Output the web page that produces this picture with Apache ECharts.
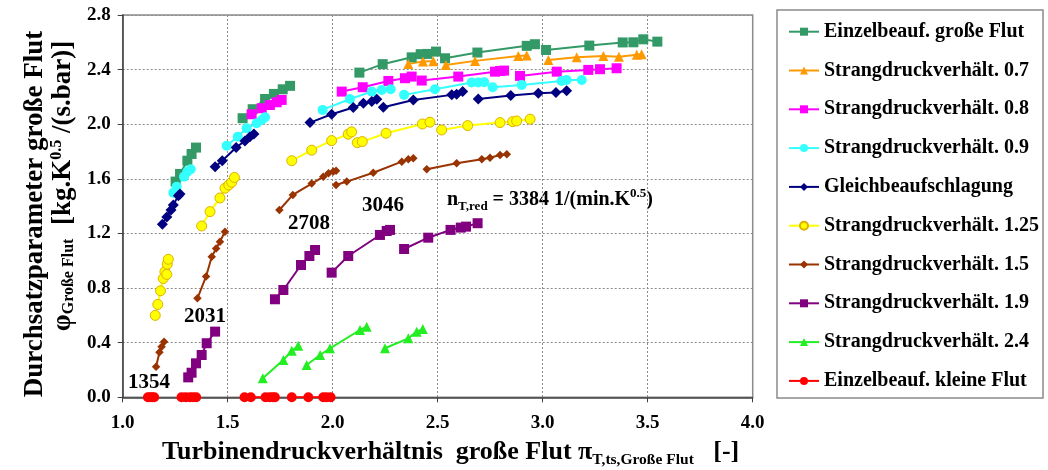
<!DOCTYPE html>
<html>
<head>
<meta charset="utf-8">
<script src="https://cdn.jsdelivr.net/npm/echarts@6/dist/echarts.min.js"></script>
<style>
  html, body { margin: 0; padding: 0; background: #fff; }
  #chart { width: 1048px; height: 470px; }
</style>
</head>
<body>
<div id="chart"></div>
<script>
// Measured operating points [pressure ratio, flow parameter], one inner list per speed line.
const einzelGrosseFlut = [
  [[1.252, 1.58], [1.273, 1.636], [1.308, 1.733], [1.328, 1.782], [1.349, 1.829]],
  [[1.571, 2.044], [1.619, 2.11], [1.678, 2.185], [1.72, 2.222], [1.762, 2.256], [1.797, 2.281]],
  [[2.127, 2.378], [2.238, 2.44], [2.376, 2.49], [2.419, 2.513], [2.451, 2.515], [2.492, 2.532]],
  [[2.535, 2.483], [2.689, 2.525], [2.924, 2.574], [2.963, 2.586]],
  [[3.016, 2.544], [3.222, 2.576], [3.381, 2.599], [3.432, 2.6], [3.479, 2.622], [3.546, 2.605]]
];
const strang07 = [
  [[2.36, 2.442], [2.43, 2.46], [2.479, 2.462]],
  [[2.539, 2.434], [2.678, 2.464], [2.884, 2.5], [2.924, 2.503]],
  [[3.027, 2.471], [3.162, 2.49], [3.289, 2.5], [3.363, 2.495], [3.448, 2.508], [3.471, 2.513]]
];
const strang08 = [
  [[1.614, 2.073], [1.662, 2.117], [1.701, 2.141], [1.733, 2.161], [1.757, 2.178]],
  [[2.043, 2.239], [2.143, 2.271], [2.265, 2.317], [2.344, 2.337], [2.376, 2.349]],
  [[2.424, 2.32], [2.598, 2.349], [2.773, 2.385], [2.797, 2.39], [2.816, 2.393]],
  [[2.892, 2.354], [3.067, 2.385], [3.217, 2.398], [3.273, 2.403], [3.352, 2.41]]
];
const strang09 = [
  [[1.241, 1.499], [1.257, 1.543], [1.292, 1.616], [1.308, 1.653], [1.324, 1.67]],
  [[1.495, 1.843], [1.548, 1.909], [1.59, 1.97], [1.638, 2.007], [1.662, 2.031], [1.678, 2.051]],
  [[1.952, 2.105], [2.082, 2.185], [2.186, 2.239], [2.233, 2.251], [2.276, 2.256]],
  [[2.34, 2.215], [2.487, 2.256], [2.662, 2.305], [2.693, 2.305], [2.722, 2.307]],
  [[2.762, 2.271], [2.9, 2.288], [3.09, 2.317], [3.114, 2.324], [3.186, 2.324]]
];
const gleichbeaufschlagung = [
  [[1.189, 1.267], [1.21, 1.32], [1.23, 1.372], [1.241, 1.409], [1.265, 1.477], [1.273, 1.489]],
  [[1.44, 1.689], [1.474, 1.733], [1.54, 1.829], [1.582, 1.878], [1.606, 1.909], [1.625, 1.929]],
  [[1.892, 2.012], [1.995, 2.073], [2.098, 2.122], [2.146, 2.154], [2.186, 2.166], [2.21, 2.183]],
  [[2.241, 2.125], [2.384, 2.178], [2.567, 2.215], [2.59, 2.22], [2.619, 2.239]],
  [[2.693, 2.185], [2.848, 2.21], [2.979, 2.227], [3.063, 2.232], [3.114, 2.246]]
];
const strang125 = [
  [[1.155, 0.6], [1.167, 0.68], [1.18, 0.78], [1.193, 0.87], [1.201, 0.92], [1.21, 0.9], [1.212, 0.975], [1.217, 1.011]],
  [[1.376, 1.255], [1.416, 1.36], [1.463, 1.46], [1.487, 1.531], [1.505, 1.555], [1.519, 1.575], [1.532, 1.61]],
  [[1.805, 1.733], [1.9, 1.81], [1.995, 1.88], [2.074, 1.927], [2.09, 1.944]],
  [[2.117, 1.865], [2.141, 1.873], [2.254, 1.934], [2.427, 2.002], [2.463, 2.015]],
  [[2.519, 1.958], [2.643, 1.99], [2.797, 2.012], [2.857, 2.019], [2.876, 2.024], [2.94, 2.037]]
];
const strang15 = [
  [[1.159, 0.224], [1.175, 0.33], [1.185, 0.37], [1.197, 0.407]],
  [[1.356, 0.725], [1.397, 0.885], [1.424, 1.03], [1.445, 1.09], [1.463, 1.14], [1.487, 1.213]],
  [[1.746, 1.372], [1.81, 1.482], [1.9, 1.565], [1.955, 1.615], [1.98, 1.641], [2.003, 1.653], [2.016, 1.66]],
  [[2.016, 1.555], [2.067, 1.58], [2.193, 1.645], [2.329, 1.726], [2.36, 1.743], [2.384, 1.751]],
  [[2.448, 1.67], [2.59, 1.714], [2.71, 1.743], [2.749, 1.755], [2.797, 1.775], [2.829, 1.78]]
];
const strang19 = [
  [[1.312, 0.146], [1.328, 0.18], [1.349, 0.249], [1.376, 0.31], [1.4, 0.396], [1.44, 0.481]],
  [[1.725, 0.718], [1.765, 0.786], [1.849, 0.969], [1.889, 1.035], [1.916, 1.079]],
  [[1.995, 0.913], [2.074, 1.035], [2.225, 1.189], [2.257, 1.218], [2.273, 1.226]],
  [[2.34, 1.086], [2.455, 1.169], [2.561, 1.226], [2.61, 1.243], [2.635, 1.25], [2.69, 1.275]]
];
const strang24 = [
  [[1.667, 0.139], [1.765, 0.273], [1.805, 0.341], [1.836, 0.378]],
  [[1.876, 0.237], [1.94, 0.31], [1.987, 0.359], [2.13, 0.493], [2.162, 0.517]],
  [[2.249, 0.359], [2.36, 0.432], [2.4, 0.481], [2.429, 0.5]]
];
const einzelKleineFlut = [
  [[1.12, 0], [1.13, 0], [1.14, 0], [1.15, 0]],
  [[1.28, 0], [1.3, 0], [1.32, 0], [1.335, 0], [1.35, 0]],
  [[1.58, 0], [1.61, 0], [1.68, 0], [1.7, 0], [1.715, 0], [1.725, 0]],
  [[1.805, 0], [1.884, 0], [1.955, 0], [1.971, 0], [1.99, 0]]
];

const seriesNames = [
  'Einzelbeauf. große Flut', 'Strangdruckverhält. 0.7', 'Strangdruckverhält. 0.8',
  'Strangdruckverhält. 0.9', 'Gleichbeaufschlagung', 'Strangdruckverhält. 1.25',
  'Strangdruckverhält. 1.5', 'Strangdruckverhält. 1.9', 'Strangdruckverhält. 2.4',
  'Einzelbeauf. kleine Flut'
];
const speedLabels = ['1354', '2031', '2708', '3046'];
const xTicks = { min: 1.0, max: 4.0, step: 0.5 };
const yTicks = { min: 0.0, max: 2.8, step: 0.4 };

// Marker and line style per series
const styles = [
  { segs: einzelGrosseFlut, symbol: 'rect', size: 10, color: '#339966' },
  { segs: strang07, symbol: 'triangle', size: 10, color: '#FF9900' },
  { segs: strang08, symbol: 'rect', size: 10, color: '#FF00FF' },
  { segs: strang09, symbol: 'circle', size: 10, color: '#33FFFF' },
  { segs: gleichbeaufschlagung, symbol: 'diamond', size: 11, color: '#000080' },
  { segs: strang125, symbol: 'circle', size: 10, color: '#FFFF00', border: '#E0B000' },
  { segs: strang15, symbol: 'diamond', size: 8.5, color: '#993300' },
  { segs: strang19, symbol: 'rect', size: 10, color: '#800080' },
  { segs: strang24, symbol: 'triangle', size: 10, color: '#22EE22' },
  { segs: einzelKleineFlut, symbol: 'circle', size: 10, color: '#FF0000' }
];

const FONT = 'Liberation Serif, Times New Roman, serif';

const series = [];
styles.forEach((st, i) => {
  st.segs.forEach(seg => {
    series.push({
      type: 'line',
      name: seriesNames[i],
      data: seg,
      symbol: st.symbol,
      symbolSize: st.size,
      showAllSymbol: true,
      animation: false,
      lineStyle: { color: st.color, width: 2 },
      itemStyle: {
        color: st.color,
        borderColor: st.border || st.color,
        borderWidth: st.border ? 1 : 0
      },
      emphasis: { disabled: true }
    });
  });
});

const chart = echarts.init(document.getElementById('chart'), null, { renderer: 'canvas' });

const mainText = { fontFamily: FONT, fontWeight: 'bold', fill: '#000' };

chart.setOption({
  backgroundColor: '#fff',
  animation: false,
  grid: {
    left: 122.7, right: 295.3, top: 15, bottom: 72.7,
    show: true, borderColor: '#8a8a8a', borderWidth: 1.5, backgroundColor: 'transparent'
  },
  xAxis: {
    type: 'value', min: xTicks.min, max: xTicks.max, interval: xTicks.step,
    axisLine: { show: true, onZero: false, lineStyle: { color: '#404040', width: 1.5 } },
    axisTick: { show: true, length: 5, lineStyle: { color: '#404040' } },
    axisLabel: {
      margin: 16, fontFamily: FONT, fontWeight: 'bold', fontSize: 19, color: '#000',
      formatter: v => v.toFixed(1)
    },
    splitLine: { show: true, lineStyle: { color: '#8c8c8c', type: [2, 2], width: 1 } }
  },
  yAxis: {
    type: 'value', min: yTicks.min, max: yTicks.max, interval: yTicks.step,
    axisLine: { show: true, lineStyle: { color: '#404040', width: 1.5 } },
    axisTick: { show: true, length: 5, lineStyle: { color: '#404040' } },
    axisLabel: {
      margin: 12, fontFamily: FONT, fontWeight: 'bold', fontSize: 19, color: '#000',
      formatter: v => v.toFixed(1)
    },
    splitLine: { show: true, lineStyle: { color: '#8c8c8c', type: [2, 2], width: 1 } }
  },
  legend: {
    data: seriesNames,
    orient: 'vertical',
    left: 788, top: 20.7,
    padding: 0,
    itemWidth: 30, itemHeight: 10,
    itemGap: 16.8,
    selectedMode: false,
    textStyle: { fontFamily: FONT, fontWeight: 'bold', fontSize: 20, lineHeight: 22, color: '#000' }
  },
  graphic: [
    { type: 'rect', shape: { x: 777, y: 10, width: 266, height: 388 },
      style: { fill: 'none', stroke: '#8a8a8a', lineWidth: 1.5 }, silent: true },
    // axis titles
    { type: 'text', x: 162, y: 452, silent: true,
      style: {
        text: '{a|Turbinendruckverhältnis  große Flut π}{s|T,ts,Große Flut}{a|   [-]}',
        textAlign: 'left', textVerticalAlign: 'middle',
        rich: {
          a: Object.assign({ fontSize: 26, lineHeight: 32 }, mainText),
          s: Object.assign({ fontSize: 15.5, lineHeight: 15, verticalAlign: 'bottom' }, mainText)
        }
      } },
    { type: 'text', x: 35, y: 214, rotation: Math.PI / 2, silent: true,
      style: Object.assign({
        text: 'Durchsatzparameter große Flut', fontSize: 27,
        textAlign: 'center', textVerticalAlign: 'middle'
      }, mainText) },
    { type: 'text', x: 63, y: 186, rotation: Math.PI / 2, silent: true,
      style: {
        text: '{a|φ}{s|Große Flut}{a|  [kg.K}{p|0.5}{a| /(s.bar)]}',
        textAlign: 'center', textVerticalAlign: 'middle',
        rich: {
          a: Object.assign({ fontSize: 27, lineHeight: 28 }, mainText),
          s: Object.assign({ fontSize: 16, lineHeight: 14, verticalAlign: 'bottom' }, mainText),
          p: Object.assign({ fontSize: 16, lineHeight: 14, verticalAlign: 'top' }, mainText)
        }
      } },
    // speed line labels
    { type: 'text', x: 149, y: 383, silent: true,
      style: Object.assign({ text: speedLabels[0], fontSize: 21, textAlign: 'center', textVerticalAlign: 'middle' }, mainText) },
    { type: 'text', x: 205, y: 317, silent: true,
      style: Object.assign({ text: speedLabels[1], fontSize: 21, textAlign: 'center', textVerticalAlign: 'middle' }, mainText) },
    { type: 'text', x: 309, y: 224, silent: true,
      style: Object.assign({ text: speedLabels[2], fontSize: 21, textAlign: 'center', textVerticalAlign: 'middle' }, mainText) },
    { type: 'text', x: 383, y: 206, silent: true,
      style: Object.assign({ text: speedLabels[3], fontSize: 21, textAlign: 'center', textVerticalAlign: 'middle' }, mainText) },
    { type: 'text', x: 447, y: 200, silent: true,
      style: {
        text: '{a|n}{s|T,red}{a| = 3384 1/(min.K}{p|0.5}{a|)}',
        textAlign: 'left', textVerticalAlign: 'middle',
        rich: {
          a: Object.assign({ fontSize: 20, lineHeight: 26 }, mainText),
          s: Object.assign({ fontSize: 13, lineHeight: 13, verticalAlign: 'bottom' }, mainText),
          p: Object.assign({ fontSize: 13, lineHeight: 13, verticalAlign: 'top' }, mainText)
        }
      } }
  ],
  series: series
});
</script>
</body>
</html>
